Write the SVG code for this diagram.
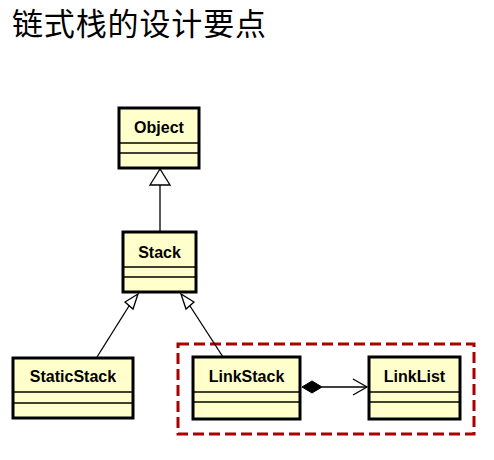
<svg xmlns="http://www.w3.org/2000/svg" width="494" height="460" viewBox="0 0 494 460">
<style>
.box{fill:#ffffcc;stroke:#000;stroke-width:3}
.sep{stroke:#000;stroke-width:1.3}
.lbl{font-family:"Liberation Sans",Arial,sans-serif;font-weight:bold;font-size:16px;text-anchor:middle;fill:#000}
.ln{stroke:#000;stroke-width:1.3;fill:none}
.tri{fill:#fff;stroke:#000;stroke-width:1.3}
</style>
<rect width="494" height="460" fill="#fff"/>
<text x="12" y="35" font-family="'Noto Sans CJK SC',sans-serif" font-size="31" textLength="254" fill="#000">链式栈的设计要点</text>
<rect x="178" y="344" width="296" height="90" fill="none" stroke="#aa0000" stroke-width="3" stroke-dasharray="11,5"/>
<g id="connectors">
<line class="ln" x1="160" y1="185" x2="160" y2="231"/>
<polygon class="tri" points="160,169 150,185 170,185"/>
<line class="ln" x1="97" y1="357" x2="129" y2="306"/>
<polygon class="tri" points="138,294 125,302 133,309"/>
<line class="ln" x1="223" y1="357" x2="190" y2="306"/>
<polygon class="tri" points="181,294 186,309 194,302"/>
<polygon points="302,387 312,381 322,387 312,393" fill="#000" stroke="#000" stroke-width="1"/>
<line class="ln" x1="322" y1="387" x2="367" y2="387"/>
<polyline class="ln" points="353,379 367,387 353,395"/>
</g>
<g id="Object">
<rect class="box" x="119" y="108" width="80" height="60"/>
<line class="sep" x1="119" y1="143" x2="199" y2="143"/>
<line class="sep" x1="119" y1="153" x2="199" y2="153"/>
<text class="lbl" x="159" y="133">Object</text>
</g>
<g id="Stack">
<rect class="box" x="123" y="232" width="73" height="60"/>
<line class="sep" x1="123" y1="267" x2="196" y2="267"/>
<line class="sep" x1="123" y1="277" x2="196" y2="277"/>
<text class="lbl" x="159.5" y="258">Stack</text>
</g>
<g id="StaticStack">
<rect class="box" x="13" y="358" width="120" height="60"/>
<line class="sep" x1="13" y1="392" x2="133" y2="392"/>
<line class="sep" x1="13" y1="403" x2="133" y2="403"/>
<text class="lbl" x="73" y="382">StaticStack</text>
</g>
<g id="LinkStack">
<rect class="box" x="193" y="357" width="107" height="62"/>
<line class="sep" x1="193" y1="392" x2="300" y2="392"/>
<line class="sep" x1="193" y1="402" x2="300" y2="402"/>
<text class="lbl" x="246.5" y="382">LinkStack</text>
</g>
<g id="LinkList">
<rect class="box" x="369" y="357" width="91" height="62"/>
<line class="sep" x1="369" y1="392" x2="460" y2="392"/>
<line class="sep" x1="369" y1="402" x2="460" y2="402"/>
<text class="lbl" x="414.5" y="382">LinkList</text>
</g>
</svg>
